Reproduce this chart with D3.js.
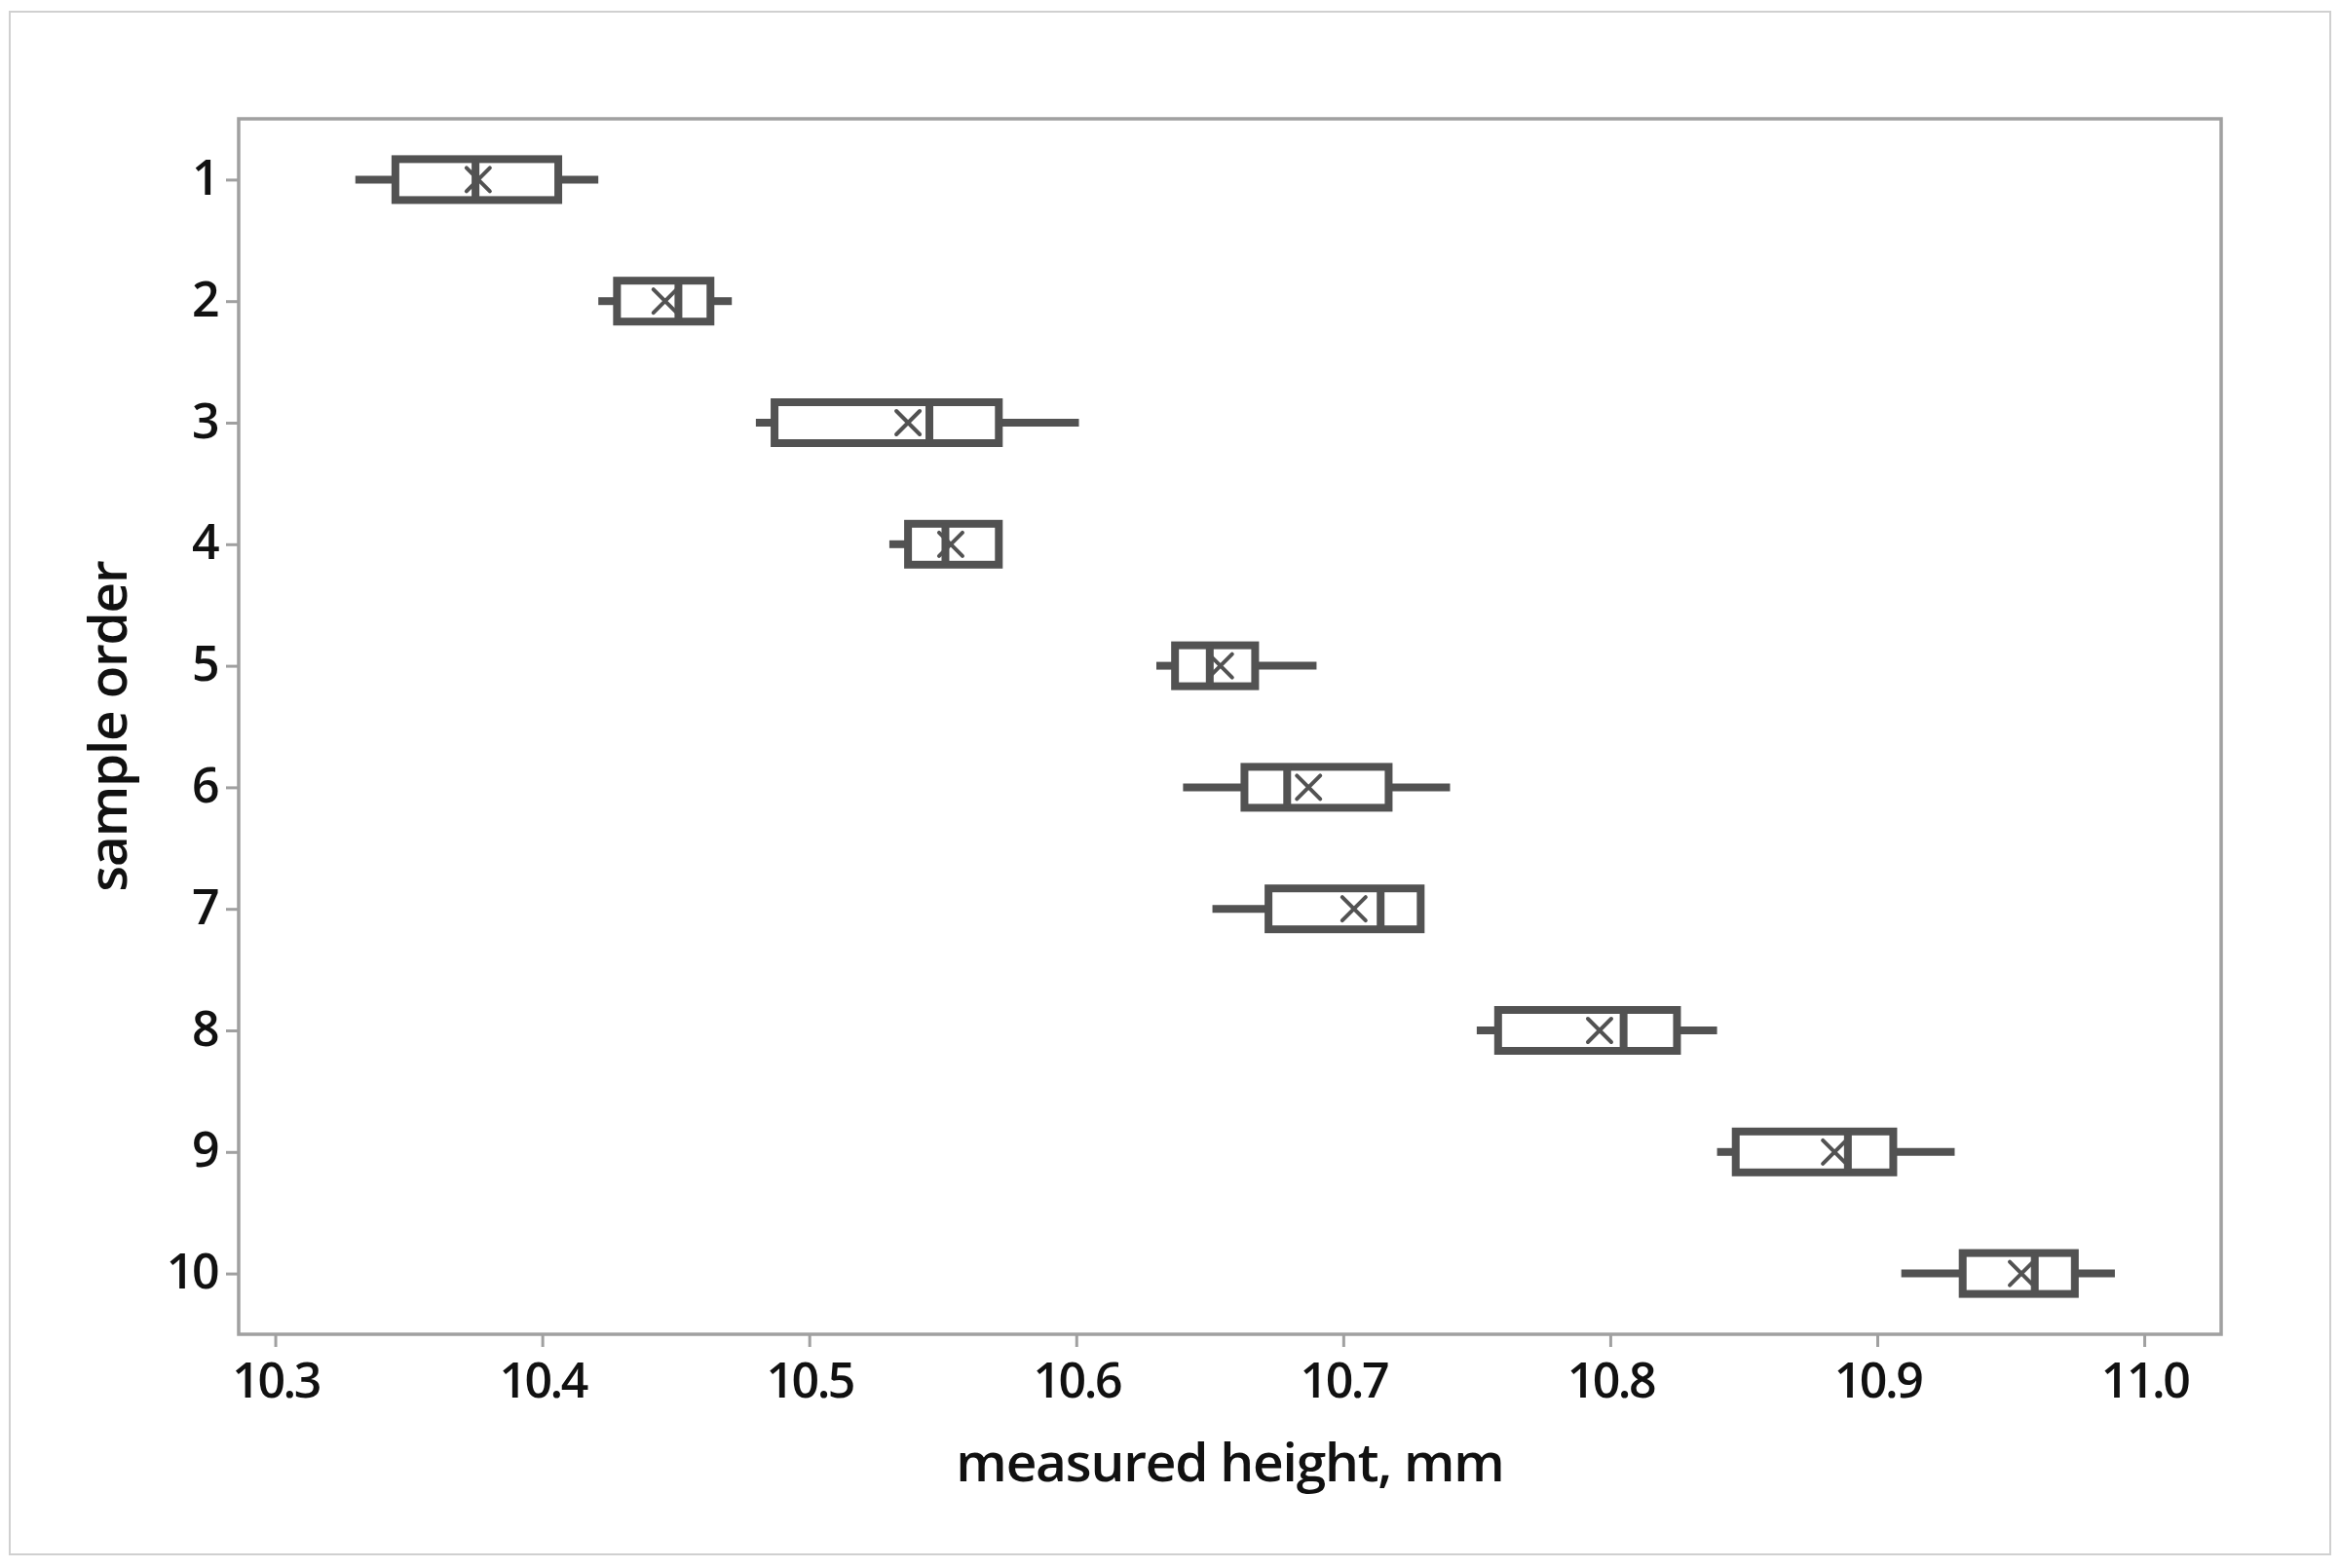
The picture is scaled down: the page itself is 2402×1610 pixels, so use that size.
<!DOCTYPE html>
<html>
<head>
<meta charset="utf-8">
<script src="https://cdn.jsdelivr.net/npm/d3@7"></script>
<style>
  html, body { margin: 0; padding: 0; background: #ffffff; }
  svg { display: block; }
  text { font-family: "Open Sans", "Noto Sans", sans-serif; }
</style>
</head>
<body>
<svg id="chart" width="2402" height="1610"></svg>
<script>
// ---- data ----
const samples     = [1, 2, 3, 4, 5, 6, 7, 8, 9, 10];
const whiskerLow  = [10.330, 10.421, 10.480, 10.530, 10.630, 10.640, 10.651, 10.750, 10.840, 10.909];
const q1          = [10.345, 10.428, 10.487, 10.537, 10.637, 10.663, 10.672, 10.758, 10.847, 10.932];
const medians     = [10.375, 10.451, 10.545, 10.551, 10.650, 10.679, 10.714, 10.805, 10.889, 10.959];
const q3          = [10.406, 10.463, 10.571, 10.571, 10.667, 10.717, 10.729, 10.825, 10.906, 10.974];
const whiskerHigh = [10.421, 10.471, 10.601, 10.571, 10.690, 10.740, 10.729, 10.840, 10.929, 10.989];
const means       = [10.376, 10.446, 10.537, 10.553, 10.654, 10.687, 10.704, 10.796, 10.884, 10.954];
const xTicks      = [10.3, 10.4, 10.5, 10.6, 10.7, 10.8, 10.9, 11.0];
const xTitle = "measured height, mm";
const yTitle = "sample order";

const rows = samples.map((s, i) => ({
  s, lo: whiskerLow[i], q1: q1[i], med: medians[i], q3: q3[i], hi: whiskerHigh[i], mean: means[i]
}));

// ---- layout ----
const W = 2402, H = 1610;
const plot = { left: 245, right: 2280, top: 122, bottom: 1370 };
const boxColor = "#525252";
const axisColor = "#a0a0a0";

const svg = d3.select("#chart");

// outer frame
svg.append("rect")
  .attr("x", 10).attr("y", 12)
  .attr("width", 2382).attr("height", 1584)
  .attr("fill", "#ffffff")
  .attr("stroke", "#d0d0d0").attr("stroke-width", 2);

const x = d3.scaleLinear().domain([10.2863, 11.0288]).range([plot.left, plot.right]);
const y = d3.scalePoint().domain(samples).range([plot.top, plot.bottom]).padding(0.5);

// axes
const xAxis = d3.axisBottom(x).tickValues(xTicks).tickFormat(d3.format(".1f")).tickSize(13).tickPadding(14);
const yAxis = d3.axisLeft(y).tickSize(13).tickPadding(10);

const gx = svg.append("g").attr("transform", `translate(0,${plot.bottom})`).call(xAxis);
const gy = svg.append("g").attr("transform", `translate(${plot.left},0)`).call(yAxis);

[gx, gy].forEach(g => {
  g.select(".domain").remove();
  g.selectAll(".tick line").attr("stroke", axisColor).attr("stroke-width", 3);
  g.selectAll(".tick text")
    .attr("fill", "#111")
    .style("font-size", "50px")
    .style("font-weight", 600)
    .style("letter-spacing", "-2.5px");
});
gx.selectAll(".tick text").attr("dy", null).attr("y", 65);
gy.selectAll(".tick text").attr("dy", "0.30em").attr("x", -22);

// plot frame
svg.append("rect")
  .attr("x", plot.left).attr("y", plot.top)
  .attr("width", plot.right - plot.left).attr("height", plot.bottom - plot.top)
  .attr("fill", "none")
  .attr("stroke", axisColor).attr("stroke-width", 3.5);

// boxes
const halfH = 21;
const g = svg.append("g");
const box = g.selectAll("g.box").data(rows).join("g").attr("class", "box");

// whiskers
box.append("line")
  .attr("x1", d => x(d.lo)).attr("x2", d => x(d.q1))
  .attr("y1", d => y(d.s)).attr("y2", d => y(d.s))
  .attr("stroke", boxColor).attr("stroke-width", 8);
box.append("line")
  .attr("x1", d => x(d.q3)).attr("x2", d => x(d.hi))
  .attr("y1", d => y(d.s)).attr("y2", d => y(d.s))
  .attr("stroke", boxColor).attr("stroke-width", 8);

// box
box.append("rect")
  .attr("x", d => x(d.q1)).attr("y", d => y(d.s) - halfH)
  .attr("width", d => x(d.q3) - x(d.q1)).attr("height", 2 * halfH)
  .attr("fill", "#ffffff")
  .attr("stroke", boxColor).attr("stroke-width", 8);

// median
box.append("line")
  .attr("x1", d => x(d.med)).attr("x2", d => x(d.med))
  .attr("y1", d => y(d.s) - halfH).attr("y2", d => y(d.s) + halfH)
  .attr("stroke", boxColor).attr("stroke-width", 8);

// mean marker (X)
const m = 12;
box.append("path")
  .attr("d", d => {
    const cx = x(d.mean), cy = y(d.s);
    return `M${cx - m},${cy - m}L${cx + m},${cy + m}M${cx - m},${cy + m}L${cx + m},${cy - m}`;
  })
  .attr("fill", "none")
  .attr("stroke", boxColor).attr("stroke-width", 4).attr("stroke-linecap", "round");

// titles
svg.append("text")
  .attr("x", (plot.left + plot.right) / 2).attr("y", 1521)
  .attr("text-anchor", "middle")
  .attr("fill", "#111")
  .style("font-size", "55px").style("font-weight", 600).style("letter-spacing", "-1.2px")
  .text(xTitle);

svg.append("text")
  .attr("transform", `translate(130,${(plot.top + plot.bottom) / 2}) rotate(-90)`)
  .attr("text-anchor", "middle")
  .attr("fill", "#111")
  .style("font-size", "55px").style("font-weight", 600).style("letter-spacing", "-1.2px")
  .text(yTitle);
</script>
</body>
</html>
